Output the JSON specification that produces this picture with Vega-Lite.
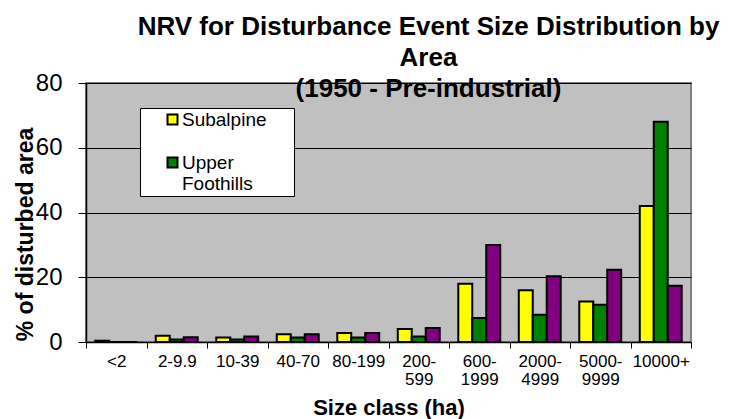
{
  "$schema": "https://vega.github.io/schema/vega-lite/v6.json",
  "width": 605,
  "height": 259,
  "autosize": {"type": "none"},
  "padding": {"left": 86, "top": 83, "right": 38, "bottom": 77},
  "background": "white",
  "config": {
    "font": "Liberation Sans",
    "view": {"fill": "#C0C0C0", "stroke": "#808080", "strokeWidth": 2}
  },
  "title": {
    "text": ["NRV for Disturbance Event Size Distribution by", "Area", "(1950 - Pre-industrial)"],
    "font": "Liberation Sans",
    "fontSize": 26,
    "fontWeight": "bold",
    "color": "black",
    "lineHeight": 31,
    "anchor": "middle",
    "baseline": "alphabetic",
    "dx": 40,
    "offset": -52
  },
  "data": {
    "values": [
      {"Class": "<2", "Series": "Subalpine", "Pct": 0.4},
      {"Class": "<2", "Series": "Upper Foothills", "Pct": 0},
      {"Class": "<2", "Series": "Montane", "Pct": 0},
      {"Class": "2-9.9", "Series": "Subalpine", "Pct": 1.9},
      {"Class": "2-9.9", "Series": "Upper Foothills", "Pct": 0.8},
      {"Class": "2-9.9", "Series": "Montane", "Pct": 1.5},
      {"Class": "10-39", "Series": "Subalpine", "Pct": 1.4},
      {"Class": "10-39", "Series": "Upper Foothills", "Pct": 0.8},
      {"Class": "10-39", "Series": "Montane", "Pct": 1.7},
      {"Class": "40-70", "Series": "Subalpine", "Pct": 2.4},
      {"Class": "40-70", "Series": "Upper Foothills", "Pct": 1.4},
      {"Class": "40-70", "Series": "Montane", "Pct": 2.4},
      {"Class": "80-199", "Series": "Subalpine", "Pct": 2.8},
      {"Class": "80-199", "Series": "Upper Foothills", "Pct": 1.4},
      {"Class": "80-199", "Series": "Montane", "Pct": 2.8},
      {"Class": "200-599", "Series": "Subalpine", "Pct": 4.0},
      {"Class": "200-599", "Series": "Upper Foothills", "Pct": 1.7},
      {"Class": "200-599", "Series": "Montane", "Pct": 4.3},
      {"Class": "600-1999", "Series": "Subalpine", "Pct": 18},
      {"Class": "600-1999", "Series": "Upper Foothills", "Pct": 7.4},
      {"Class": "600-1999", "Series": "Montane", "Pct": 30},
      {"Class": "2000-4999", "Series": "Subalpine", "Pct": 16},
      {"Class": "2000-4999", "Series": "Upper Foothills", "Pct": 8.4},
      {"Class": "2000-4999", "Series": "Montane", "Pct": 20.3},
      {"Class": "5000-9999", "Series": "Subalpine", "Pct": 12.5},
      {"Class": "5000-9999", "Series": "Upper Foothills", "Pct": 11.5},
      {"Class": "5000-9999", "Series": "Montane", "Pct": 22.3},
      {"Class": "10000+", "Series": "Subalpine", "Pct": 42},
      {"Class": "10000+", "Series": "Upper Foothills", "Pct": 68},
      {"Class": "10000+", "Series": "Montane", "Pct": 17.4}
    ]
  },
  "mark": {"type": "bar", "stroke": "black", "strokeWidth": 2, "opacity": 1},
  "encoding": {
    "x": {
      "field": "Class",
      "type": "nominal",
      "sort": ["<2", "2-9.9", "10-39", "40-70", "80-199", "200-599", "600-1999", "2000-4999", "5000-9999", "10000+"],
      "scale": {"paddingInner": 0, "paddingOuter": 0},
      "axis": {
        "title": "Size class (ha)",
        "titleFont": "Liberation Sans",
        "titleFontSize": 22,
        "titleFontWeight": "bold",
        "titleColor": "black",
        "titleBaseline": "alphabetic",
        "titleY": 72,
        "labelAngle": 0,
        "labelFont": "Liberation Sans",
        "labelFontSize": 17,
        "labelColor": "black",
        "labelLineHeight": 18,
        "labelBaseline": "top",
        "labelPadding": 5,
        "labelExpr": "indexof(datum.label, '-') >= 3 ? [split(datum.label, '-')[0] + '-', split(datum.label, '-')[1]] : datum.label",
        "tickBand": "extent",
        "tickSize": 6,
        "tickColor": "black",
        "domainColor": "black",
        "domainWidth": 1.5,
        "grid": false
      }
    },
    "xOffset": {
      "field": "Series",
      "type": "nominal",
      "sort": ["Subalpine", "Upper Foothills", "Montane"],
      "scale": {"paddingInner": 0, "paddingOuter": 0.664}
    },
    "y": {
      "field": "Pct",
      "type": "quantitative",
      "scale": {"domain": [0, 80], "nice": false},
      "axis": {
        "title": "% of disturbed area",
        "titleFont": "Liberation Sans",
        "titleFontSize": 23,
        "titleFontWeight": "bold",
        "titleColor": "black",
        "titleBaseline": "alphabetic",
        "titleX": -54,
        "titleY": 151,
        "values": [0, 20, 40, 60, 80],
        "labelFont": "Liberation Sans",
        "labelFontSize": 24,
        "labelColor": "black",
        "labelPadding": 16,
        "tickSize": 8,
        "tickColor": "black",
        "domainColor": "black",
        "domainWidth": 1.5,
        "grid": true,
        "gridColor": "black",
        "gridWidth": 1
      }
    },
    "color": {
      "field": "Series",
      "type": "nominal",
      "scale": {
        "domain": ["Subalpine", "Upper Foothills", "Montane"],
        "range": ["#FFFF00", "#008000", "#800080"]
      },
      "legend": {
        "values": ["Subalpine", "Upper Foothills"],
        "title": null,
        "orient": "none",
        "legendX": 54,
        "legendY": 25,
        "fillColor": "white",
        "strokeColor": "black",
        "padding": 2,
        "symbolType": "square",
        "symbolSize": 100,
        "symbolStrokeColor": "black",
        "symbolStrokeWidth": 2,
        "symbolOpacity": 1,
        "symbolOffset": 21,
        "labelFont": "Liberation Sans",
        "labelFontSize": 19,
        "labelColor": "black",
        "labelOffset": 0,
        "labelLineHeight": 22,
        "rowPadding": 23,
        "labelExpr": "datum.label == 'Upper Foothills' ? ['Upper', 'Foothills'] : datum.label + '\u00a0\u00a0\u2800'"
      }
    }
  }
}
